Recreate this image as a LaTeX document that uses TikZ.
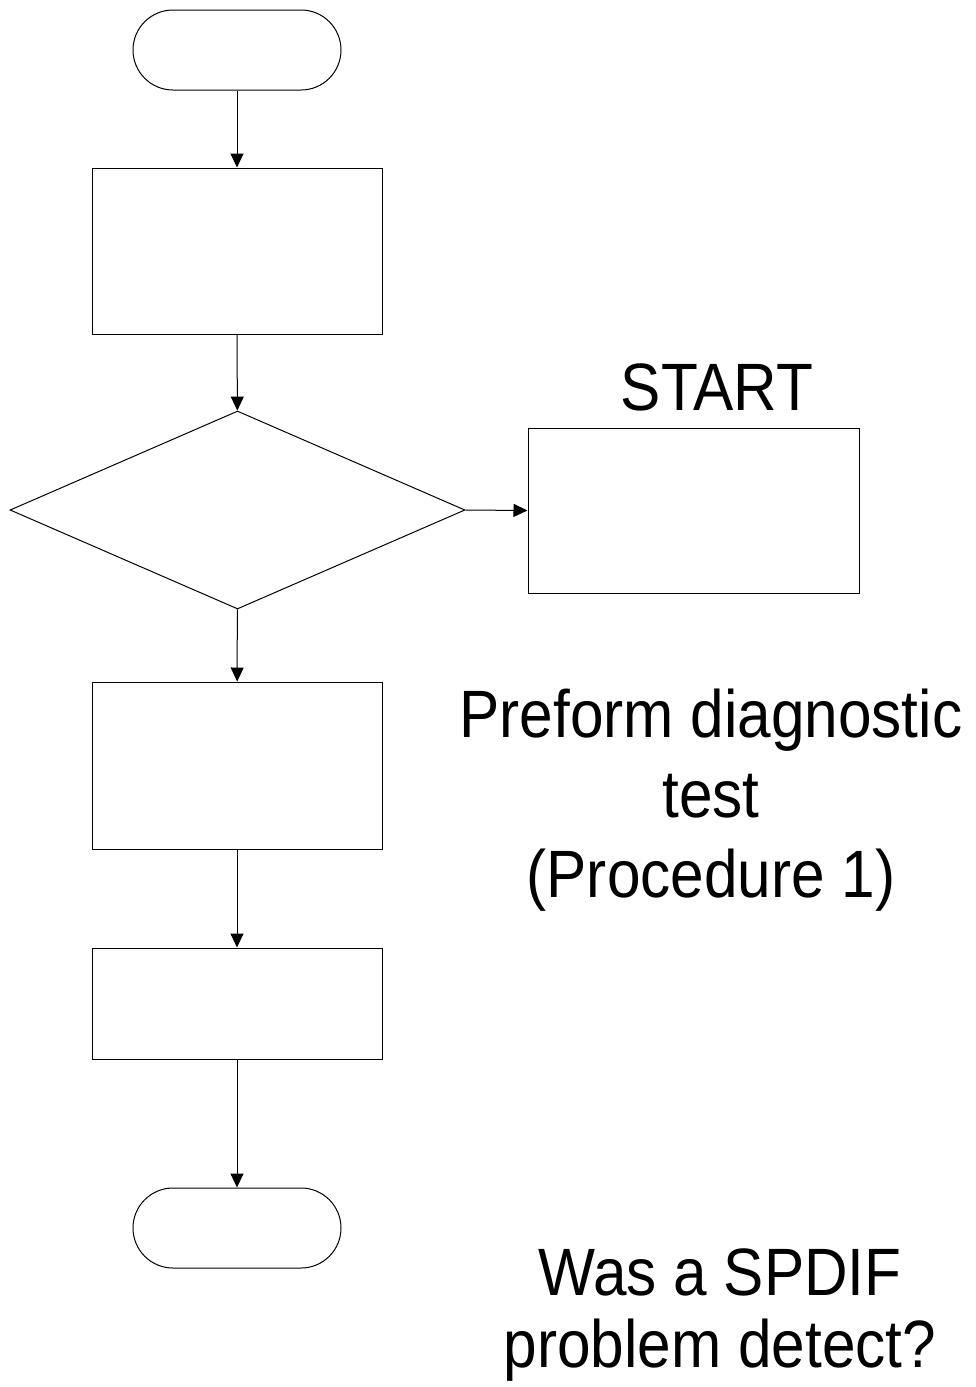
\documentclass[tikz,border=0pt]{standalone}
\usepackage{fontspec}
\newfontfamily\labfont[FakeStretch=0.9]{Liberation Sans}
\usetikzlibrary{shapes.geometric,arrows.meta}
\begin{document}
\begin{tikzpicture}[x=1pt,y=-1pt,
  line width=1pt,
  box/.style={draw,rectangle,inner sep=0pt,minimum width=290pt},
  term/.style={draw,rectangle,rounded corners=40pt,inner sep=0pt,minimum width=208pt,minimum height=80pt},
  dec/.style={draw,diamond,inner sep=0pt,minimum width=455pt,minimum height=198pt},
  lab/.style={font=\labfont\fontsize{67}{80}\selectfont,align=center,inner sep=0pt,anchor=base},
  arr/.style={-{Triangle[length=14pt,width=13pt]}}]
\useasboundingbox (0,0) rectangle (975,1387);
\node[term] (start) at (237,50) {};
\node[box,minimum height=166pt] (b1) at (237,251) {};
\node[dec] (d) at (237.5,510) {};
\node[draw,rectangle,inner sep=0pt,minimum width=331pt,minimum height=165pt] (r) at (693.5,510.5) {};
\node[box,minimum height=167pt] (b2) at (237,765.5) {};
\node[box,minimum height=111pt] (b3) at (237,1003.5) {};
\node[term] (end) at (237,1228) {};
\draw[arr] (start) -- (b1);
\draw[arr] (b1) -- (d);
\draw[arr] (d.east) -- (r.west);
\draw[arr] (d) -- (b2);
\draw[arr] (b2) -- (b3);
\draw[arr] (b3) -- (end);
\node[lab] (t1) at (717,410) {START};
\node[lab] (t2) at (711,897) {Preform diagnostic\\test\\(Procedure 1)};
\node[lab,font=\labfont\fontsize{67}{72}\selectfont] (t3) at (720,1367) {Was a SPDIF\\problem detect?};
\end{tikzpicture}
\end{document}
